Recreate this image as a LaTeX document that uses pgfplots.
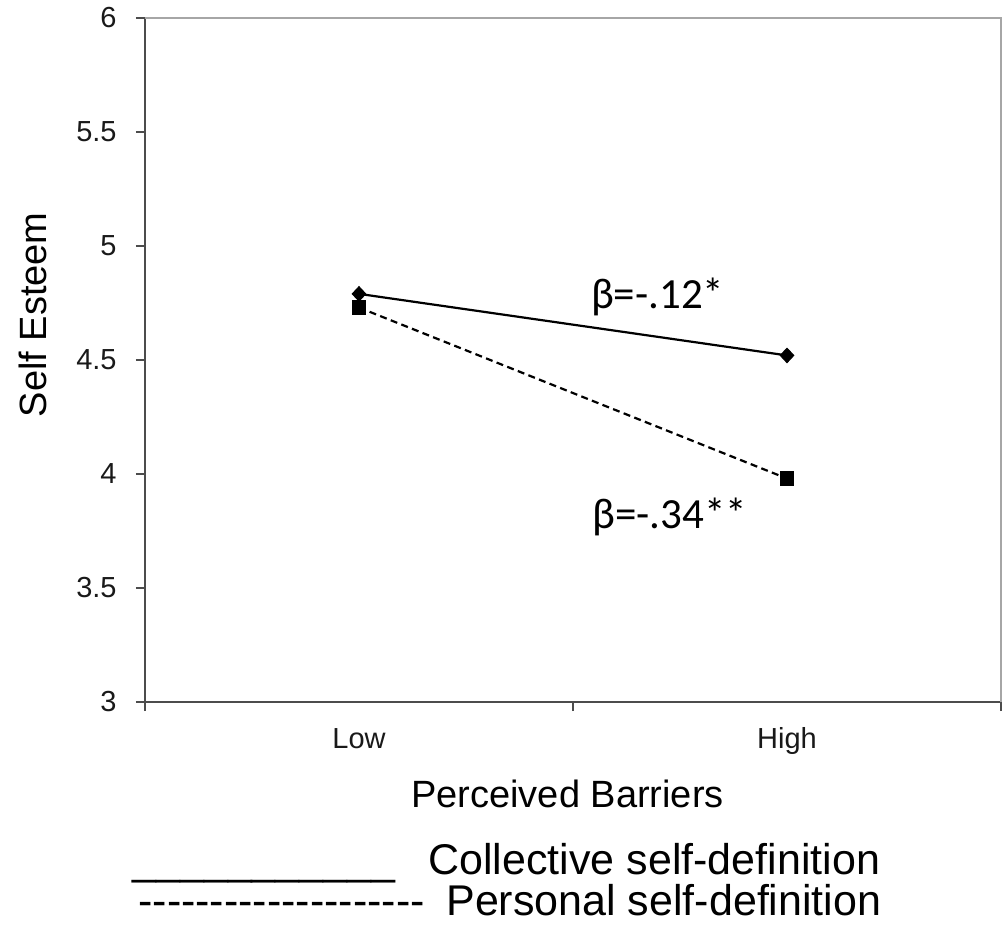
\documentclass[border=0pt]{standalone}
\usepackage{pgfplots}
\pgfplotsset{compat=1.18}
\usepackage{fontspec}
\setmainfont{Liberation Sans}
\newfontfamily\carlito{Carlito}
\begin{document}
\begin{tikzpicture}
\begin{axis}[
  scale only axis, width=428pt, height=342pt,
  xmin=0, xmax=2, ymin=3, ymax=6,
  axis lines=left,
  axis line style={-, draw=black!70, line width=1pt},
  tick align=outside, major tick length=4.5pt,
  tick style={draw=black!70, line width=0.8pt},
  xtick={0,1,2}, xticklabels={},
  extra x ticks={0.5,1.5}, extra x tick labels={Low,High},
  extra x tick style={major tick length=0pt},
  ytick={3,3.5,4,4.5,5,5.5,6},
  /pgf/number format/assume math mode=true,
  ticklabel style={font=\fontsize{14.5}{16}\selectfont, text=black!90, inner sep=0pt},
  xticklabel style={anchor=base, yshift=-23pt},
  yticklabel style={anchor=east, xshift=-9.5pt},
  xlabel={Perceived Barriers}, ylabel={Self Esteem},
  label style={font=\fontsize{19}{22}\selectfont, inner sep=0pt},
  xlabel style={at={(axis description cs:0.4936,-0.1535)}, anchor=base},
  ylabel style={at={(axis description cs:-0.1145,0.566)}, anchor=base},
  clip=false,
]
\addplot[black, line width=1.1pt, mark=diamond*, mark size=3.6pt, mark options={solid, line width=0.5pt, xscale=1.25}]
  coordinates {(0.5,4.79) (1.5,4.52)};
\addplot[black, line width=1.1pt, dash pattern=on 3.5pt off 2.2pt, mark=square*, mark size=3.4pt, mark options={solid, line width=0.5pt}]
  coordinates {(0.5,4.73) (1.5,3.98)};
\draw[black!35, line width=1.2pt] (rel axis cs:0,1) -- (rel axis cs:1,1) -- (rel axis cs:1,0);
\node[font=\carlito\fontsize{21.5}{24}\selectfont, inner sep=0pt] at (axis cs:1.198,4.776) {β=-.12*};
\node[font=\carlito\fontsize{21.5}{24}\selectfont, inner sep=0pt] at (axis cs:1.226,3.81) {β=-.34**};
\end{axis}
\node[anchor=base west, inner sep=0pt, font=\fontsize{21.5}{24}\selectfont] at (-6.5pt,-86pt) {\_\_\_\_\_\_\_\_\_\_\_};
\node[anchor=base west, inner sep=0pt, font=\fontsize{21.5}{24}\selectfont] at (141.5pt,-86pt) {Collective self-definition};
\node[anchor=base west, inner sep=0pt, font=\fontsize{21.5}{24}\selectfont] at (-3.5pt,-106.5pt) {-{}-{}-{}-{}-{}-{}-{}-{}-{}-{}-{}-{}-{}-{}-{}-{}-{}-{}-{}-{}};
\node[anchor=base west, inner sep=0pt, font=\fontsize{21.5}{24}\selectfont] at (150.5pt,-106.5pt) {Personal self-definition};
\pgfresetboundingbox
\useasboundingbox (-72.5pt,-114.5pt) rectangle (430pt,351pt);
\end{tikzpicture}
\end{document}
